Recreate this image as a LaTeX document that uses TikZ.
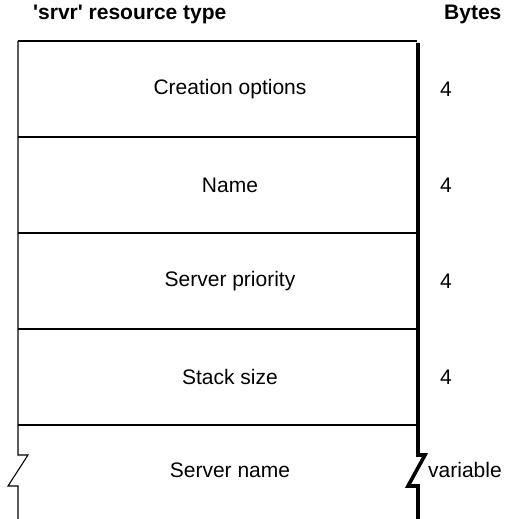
\documentclass[tikz,border=0pt]{standalone}
\usepackage{fontspec}
\setmainfont{Liberation Sans}
\begin{document}
\begin{tikzpicture}[x=1pt,y=-1pt,
  lbl/.style={font=\fontsize{21}{24}\selectfont, inner sep=0pt},
  hdr/.style={font=\fontsize{21}{24}\selectfont\bfseries, inner sep=0pt, anchor=base west},
  thin/.style={line width=1.1pt},
  thick/.style={line width=3.6pt}]
\useasboundingbox (0,0) rectangle (508,519);
% header
\node[hdr] (h1) at (33,20) {\textquotesingle srvr\textquotesingle\ resource type};
\node[hdr] (h2) at (444,20) {Bytes};
% left border with break
\draw[thin] (18,41) -- (18,455) -- (28,455) -- (8,486) -- (18,486) -- (18,519);
% top border
\draw[thin] (18,41) -- (417,41);
% right border (thick)
\draw[thick, line join=miter] (418,43) -- (418,455) -- (425,455) -- (408,486) -- (418,486) -- (418,519);
% dividers
\foreach \y in {137,233,329,425} \draw[thin] (18,\y) -- (416,\y);
% labels
\node[lbl] (r1) at (230,89) {Creation options};
\node[lbl] (r2) at (230,185) {Name};
\node[lbl] (r3) at (230,281) {Server priority};
\node[lbl] (r4) at (230,377) {Stack size};
\node[lbl] (r5) at (230,470) {Server name};
\node[lbl, anchor=west] (b1) at (440,89) {4};
\node[lbl, anchor=west] (b2) at (440,185) {4};
\node[lbl, anchor=west] (b3) at (440,281) {4};
\node[lbl, anchor=west] (b4) at (440,377) {4};
\node[lbl, anchor=west] (b5) at (428,470) {variable};
\end{tikzpicture}
\end{document}
